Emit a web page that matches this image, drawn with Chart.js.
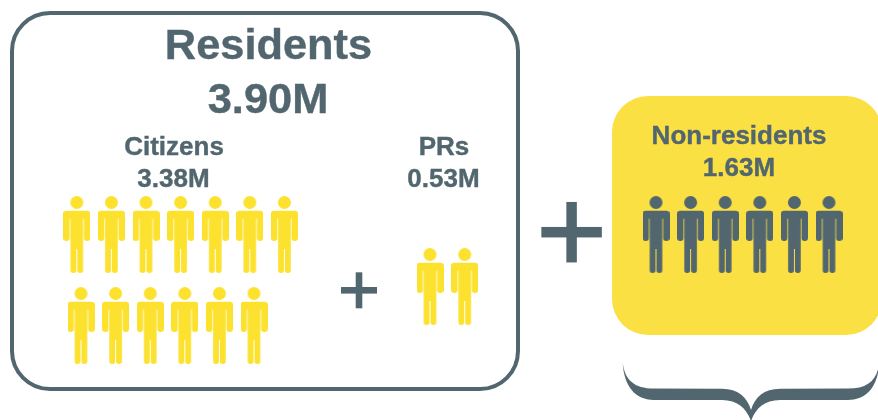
<!DOCTYPE html>
<html lang="en">

<head>
    <meta charset="UTF-8">
    <title>Population</title>
    <script src="https://cdn.jsdelivr.net/npm/chart.js"></script>
    <style>
        html, body { margin: 0; padding: 0; background: #fff; }
        canvas { display: block; }
    </style>
</head>

<body>
    <canvas id="grafico" width="878" height="420"></canvas>

    <script>
        // population in millions, one icon for about 0.26M
        var grupos = ['Citizens', 'PRs', 'Non-residents'];
        var valores = [3.38, 0.53, 1.63];
        var totalResidentes = 3.90;
        var tituloResidentes = 'Residents';
        var porIcone = 0.26;

        var AMARELO = '#fce22e';
        var AMARELO_CAIXA = '#fbe044';
        var ARDOSIA = '#52666f';

        // where each group of icons sits, in axis units
        var blocos = [
            { x: 76.8, y: 234.5, passoX: 34.6, passoY: 91, porLinha: 7, recuo: 4.2, cor: AMARELO },
            { x: 430, y: 286.5, passoX: 34.7, passoY: 91, porLinha: 7, recuo: 0, cor: AMARELO },
            { x: 656, y: 234.5, passoX: 34.6, passoY: 91, porLinha: 7, recuo: 0, cor: ARDOSIA }
        ];

        function criarIcone(cor) {
            var c = document.createElement('canvas');
            c.width = 27;
            c.height = 77;
            var g = c.getContext('2d');
            g.fillStyle = cor;
            g.beginPath();
            g.arc(13.5, 6.5, 6.5, 0, Math.PI * 2);
            g.roundRect(0, 14.7, 27, 8, [3, 3, 0, 0]);
            g.roundRect(0, 17, 6.4, 28, 3);
            g.roundRect(20.6, 17, 6.4, 28, 3);
            g.rect(7.2, 15, 12.6, 38);
            g.roundRect(7.2, 48, 5.8, 29, 2.7);
            g.roundRect(14, 48, 5.8, 29, 2.7);
            g.fill();
            return c;
        }

        function pontosDoGrupo(i) {
            var b = blocos[i];
            var qtd = Math.round(valores[i] / porIcone);
            var pontos = [];
            for (var n = 0; n < qtd; n++) {
                var linha = Math.floor(n / b.porLinha);
                var coluna = n % b.porLinha;
                pontos.push({
                    x: b.x + coluna * b.passoX + linha * b.recuo,
                    y: b.y + linha * b.passoY
                });
            }
            return pontos;
        }

        var datasets = grupos.map(function (nome, i) {
            return {
                label: nome,
                data: pontosDoGrupo(i),
                showLine: false,
                pointStyle: criarIcone(blocos[i].cor),
                pointRadius: 14
            };
        });

        function caixa(ctx, x, y, w, h, r) {
            ctx.beginPath();
            ctx.roundRect(x, y, w, h, r);
        }

        function mais(ctx, cx, cy, tam, esp) {
            ctx.fillRect(cx - tam / 2, cy - esp / 2, tam, esp);
            ctx.fillRect(cx - esp / 2, cy - tam / 2, esp, tam);
        }

        function chave(ctx) {
            ctx.beginPath();
            ctx.moveTo(622.7, 363);
            ctx.bezierCurveTo(625, 380, 634, 388.4, 654, 388.6);
            ctx.lineTo(722, 388.8);
            ctx.bezierCurveTo(738, 389, 747, 397, 751, 410);
            ctx.bezierCurveTo(755, 397, 764, 389, 780, 388.8);
            ctx.lineTo(848, 388.6);
            ctx.bezierCurveTo(868, 388.4, 877, 380, 879.3, 363);
            ctx.bezierCurveTo(878, 385, 868, 399.6, 848, 400);
            ctx.lineTo(780, 400);
            ctx.bezierCurveTo(764, 400.5, 756, 408, 751, 421);
            ctx.bezierCurveTo(746, 408, 738, 400.5, 722, 400);
            ctx.lineTo(654, 400);
            ctx.bezierCurveTo(634, 399.6, 624, 385, 622.7, 363);
            ctx.fill();
        }

        function texto(ctx, t, x, y, tam) {
            ctx.font = 'bold ' + tam + 'px "Liberation Sans", Arial, sans-serif';
            ctx.fillText(t, x, y);
            ctx.strokeText(t, x, y);
        }

        // boxes, plus signs, brace and labels around the icons
        var fundo = {
            id: 'fundo',
            beforeDatasetsDraw: function (chart) {
                var ctx = chart.ctx;
                ctx.save();
                ctx.strokeStyle = ARDOSIA;
                ctx.lineWidth = 4;
                caixa(ctx, 12, 13, 506, 376, 38);
                ctx.stroke();
                ctx.fillStyle = AMARELO_CAIXA;
                caixa(ctx, 612, 96, 270, 239, 36);
                ctx.fill();

                ctx.fillStyle = ARDOSIA;
                mais(ctx, 359, 290.3, 36, 6.6);
                mais(ctx, 571.6, 232.2, 60.5, 10.5);
                chave(ctx);

                ctx.textAlign = 'center';
                ctx.textBaseline = 'alphabetic';
                ctx.lineWidth = 0.4;
                texto(ctx, tituloResidentes, 268.5, 59, 43.4);
                texto(ctx, totalResidentes.toFixed(2) + 'M', 268, 113, 43.4);
                texto(ctx, grupos[0], 174, 155, 26);
                texto(ctx, valores[0].toFixed(2) + 'M', 173.5, 187, 26);
                texto(ctx, grupos[1], 444, 155, 26);
                texto(ctx, valores[1].toFixed(2) + 'M', 443.5, 187, 26);
                texto(ctx, grupos[2], 739, 144, 26);
                texto(ctx, valores[2].toFixed(2) + 'M', 739, 176, 26);
                ctx.restore();
            }
        };

        const myChart = new Chart(document.getElementById('grafico'), {
            type: 'scatter',
            data: { datasets: datasets },
            plugins: [fundo],
            options: {
                responsive: false,
                animation: false,
                events: [],
                layout: { padding: 0, autoPadding: false },
                plugins: {
                    legend: { display: false },
                    tooltip: { enabled: false },
                    title: { display: false }
                },
                scales: {
                    x: { type: 'linear', min: 0, max: 878, display: false },
                    y: { type: 'linear', min: 0, max: 420, reverse: true, display: false }
                }
            }
        });
    </script>
</body>

</html>
